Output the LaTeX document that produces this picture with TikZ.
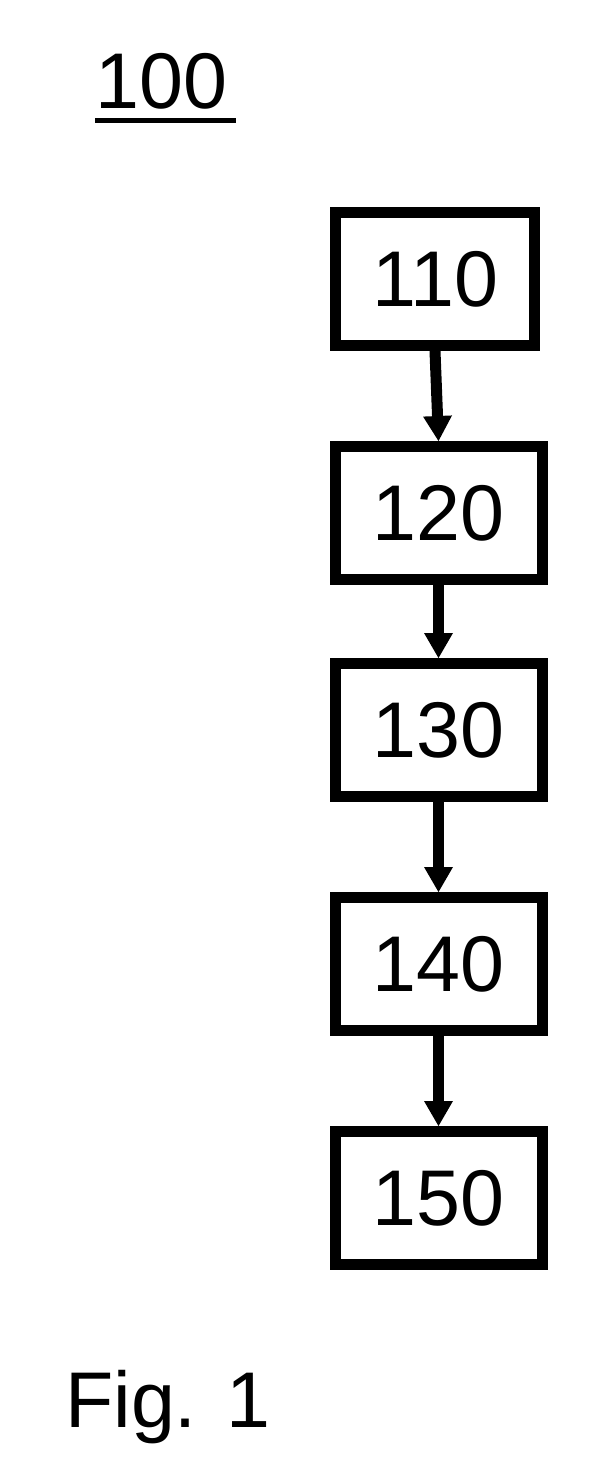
\documentclass[tikz,border=0pt]{standalone}
\usepackage{fontspec}
\setmainfont{Liberation Sans}
\usetikzlibrary{arrows.meta,positioning}
\tikzset{
  stepbox/.style = {rectangle, draw=black, line width=11pt, minimum width=207pt,
                    minimum height=133pt, inner sep=0pt, font=\fontsize{79}{95}\selectfont},
  flow/.style    = {-{Triangle[length=25pt, width=29pt, line width=0pt]}, line width=11pt, draw=black},
  lbl/.style     = {font=\fontsize{79}{95}\selectfont, inner sep=0pt}
}
\begin{document}
\begin{tikzpicture}[x=1pt, y=1pt, node distance=90pt]
    \useasboundingbox (0,0) rectangle (599,-1481);
    \node[lbl, anchor=base west] (title) at (95,-108) {100};
    \draw[line width=5pt] ([yshift=-12.5pt]title.base west) -- ([xshift=9pt, yshift=-12.5pt]title.base east);
    \node[stepbox, minimum width=199pt] (s110) at (435,-279) {110};
    \node[stepbox, below=of s110, xshift=3.5pt] (s120) {120};
    \node[stepbox, below=73pt of s120] (s130) {130};
    \node[stepbox, below=of s130] (s140) {140};
    \node[stepbox, below=of s140] (s150) {150};
    \draw[flow] (s110.south) -- (s120.north);
    \draw[flow] (s120) -- (s130);
    \draw[flow] (s130) -- (s140);
    \draw[flow] (s140) -- (s150);
    \node[lbl, anchor=base west] (fig) at (65,-1427) {Fig. 1};
\end{tikzpicture}
\end{document}
